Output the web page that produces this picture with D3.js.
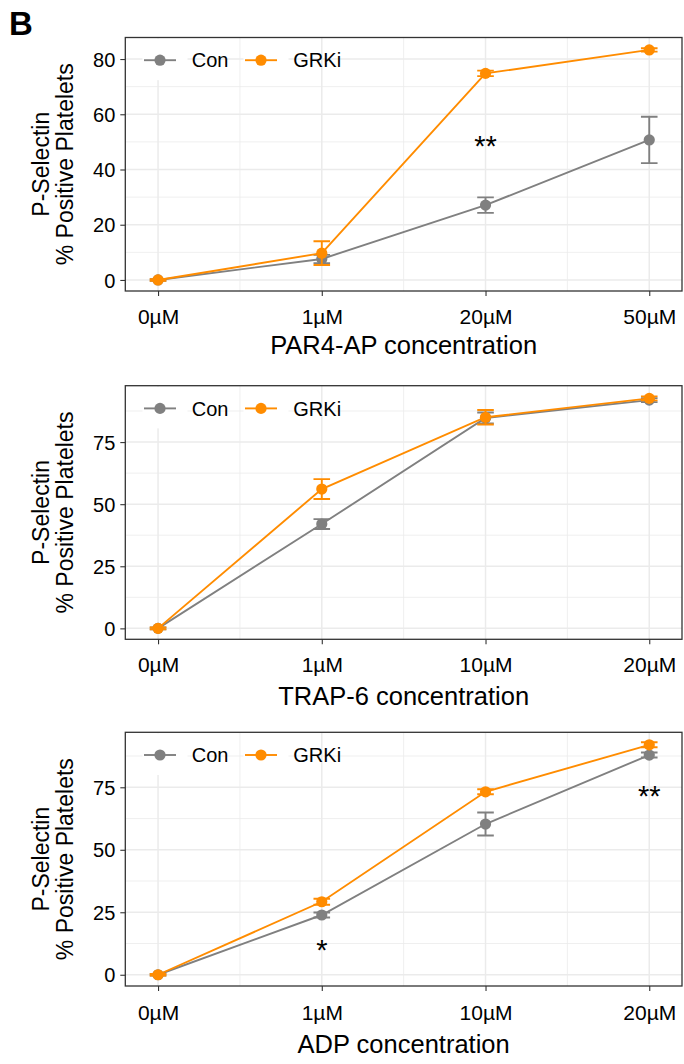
<!DOCTYPE html>
<html><head><meta charset="utf-8">
<script src="https://cdn.jsdelivr.net/npm/d3@7"></script>
<style>body{margin:0;background:#fff}svg{display:block}</style>
</head><body>
<svg id="c" width="684" height="1064"></svg>
<script>
// ---------------- data ----------------
const seriesNames = ["Con", "GRKi"];
const seriesColors = ["#808080", "#FF8C00"];

const par4Labels = ["0µM", "1µM", "20µM", "50µM"];
const par4Con = [0, 7.6, 27.1, 50.7];
const par4ConErr = [0.3, 1.5, 2.8, 8.4];
const par4GRKi = [0, 9.7, 74.8, 83.3];
const par4GRKiErr = [0.3, 4.3, 1.0, 0.6];
const par4Sig = [{ i: 2, y: 51.1, label: "**" }];

const trapLabels = ["0µM", "1µM", "10µM", "20µM"];
const trapCon = [0, 42.0, 84.7, 91.9];
const trapConErr = [0.4, 2.0, 2.2, 0.8];
const trapGRKi = [0, 56.1, 85.0, 92.6];
const trapGRKiErr = [0.4, 4.0, 2.9, 0.8];
const trapSig = [];

const adpLabels = ["0µM", "1µM", "10µM", "20µM"];
const adpCon = [0, 23.9, 60.3, 87.9];
const adpConErr = [0.3, 1.0, 4.6, 1.0];
const adpGRKi = [0, 29.2, 73.2, 92.0];
const adpGRKiErr = [0.3, 1.2, 1.0, 1.0];
const adpSig = [{ i: 1, y: 12.6, label: "*" }, { i: 3, y: 74.2, label: "**" }];

const yTicksPar4 = [0, 20, 40, 60, 80];
const yTicksOther = [0, 25, 50, 75];

const xTitles = ["PAR4-AP concentration", "TRAP-6 concentration", "ADP concentration"];
const yTitleLines = ["P-Selectin", "% Positive Platelets"];
const panelTag = "B";

// ---------------- layout ----------------
const FONT = "'Liberation Sans', Arial, Helvetica, sans-serif";
const left = 125.3, right = 682;
const panels = [
  { labels: par4Labels, con: par4Con, conErr: par4ConErr, grk: par4GRKi, grkErr: par4GRKiErr, sig: par4Sig,
    yTicks: yTicksPar4, yDom: [-4.0, 87.8], top: 37.5, bottom: 291, tickBase: 323.5, titleBase: 353.5, title: xTitles[0] },
  { labels: trapLabels, con: trapCon, conErr: trapConErr, grk: trapGRKi, grkErr: trapGRKiErr, sig: trapSig,
    yTicks: yTicksOther, yDom: [-4.4, 97.7], top: 385.7, bottom: 639.3, tickBase: 672.5, titleBase: 705, title: xTitles[1] },
  { labels: adpLabels, con: adpCon, conErr: adpConErr, grk: adpGRKi, grkErr: adpGRKiErr, sig: adpSig,
    yTicks: yTicksOther, yDom: [-4.5, 97.0], top: 732.3, bottom: 986, tickBase: 1020, titleBase: 1053, title: xTitles[2] }
];

const svg = d3.select("#c");
svg.append("rect").attr("width", 684).attr("height", 1064).attr("fill", "#fff");

svg.append("text").attr("x", 9).attr("y", 35).attr("font-family", FONT)
  .attr("font-weight", "bold").attr("font-size", 33).attr("fill", "#000").text(panelTag);

panels.forEach(p => {
  const g = svg.append("g");
  const x = d3.scalePoint().domain(p.labels).range([left, right]).padding(0.2);
  const y = d3.scaleLinear().domain(p.yDom).range([p.bottom, p.top]);
  const step = x.step();

  // gridlines
  const grid = g.append("g");
  const yMajStep = p.yTicks[1] - p.yTicks[0];
  const yMinor = [];
  for (let v = p.yTicks[0] - yMajStep / 2; v <= p.yDom[1]; v += yMajStep) if (v >= p.yDom[0]) yMinor.push(v);
  grid.selectAll(".hmin").data(yMinor).join("line")
    .attr("x1", left).attr("x2", right).attr("y1", d => y(d)).attr("y2", d => y(d))
    .attr("stroke", "#EBEBEB").attr("stroke-width", 0.8);
  const xMinor = p.labels.slice(1).map((l, i) => x(p.labels[i]) + step / 2);
  grid.selectAll(".vmin").data(xMinor).join("line")
    .attr("y1", p.top).attr("y2", p.bottom).attr("x1", d => d).attr("x2", d => d)
    .attr("stroke", "#EBEBEB").attr("stroke-width", 0.8);
  grid.selectAll(".hmaj").data(p.yTicks).join("line")
    .attr("x1", left).attr("x2", right).attr("y1", d => y(d)).attr("y2", d => y(d))
    .attr("stroke", "#EBEBEB").attr("stroke-width", 1.5);
  grid.selectAll(".vmaj").data(p.labels).join("line")
    .attr("y1", p.top).attr("y2", p.bottom).attr("x1", d => x(d)).attr("x2", d => x(d))
    .attr("stroke", "#EBEBEB").attr("stroke-width", 1.5);

  // legend
  const ly = p.top + 22.7;
  const leg = g.append("g");
  const keyOff = [18.7, 119.7];
  const textOff = [66.4, 168];
  seriesNames.forEach((name, k) => {
    const kx = left + keyOff[k];
    leg.append("rect").attr("x", kx - 1.5).attr("y", p.top + 1).attr("width", 45).attr("height", ly + 19 - p.top)
      .attr("fill", "#fff");
    leg.append("line").attr("x1", kx).attr("x2", kx + 32).attr("y1", ly).attr("y2", ly)
      .attr("stroke", seriesColors[k]).attr("stroke-width", 1.9);
    leg.append("circle").attr("cx", kx + 16).attr("cy", ly).attr("r", 5.6).attr("fill", seriesColors[k]);
    leg.append("text").attr("x", left + textOff[k]).attr("y", ly + 7.2).attr("font-family", FONT)
      .attr("font-size", 20).attr("fill", "#000").text(name);
  });

  // series
  const series = [{ v: p.con, e: p.conErr, c: seriesColors[0] }, { v: p.grk, e: p.grkErr, c: seriesColors[1] }];
  series.forEach(s => {
    const pts = p.labels.map((l, i) => ({ l, v: s.v[i], e: s.e[i] }));
    const sg = g.append("g");
    sg.selectAll(".eb").data(pts).join("path")
      .attr("d", d => {
        const cx = x(d.l), y1 = y(d.v + d.e), y2 = y(d.v - d.e), w = 8.3;
        return `M${cx - w},${y1}H${cx + w}M${cx},${y1}V${y2}M${cx - w},${y2}H${cx + w}`;
      })
      .attr("fill", "none").attr("stroke", s.c).attr("stroke-width", 1.9);
    sg.append("path").datum(pts)
      .attr("d", d3.line().x(d => x(d.l)).y(d => y(d.v)))
      .attr("fill", "none").attr("stroke", s.c).attr("stroke-width", 1.9);
    sg.selectAll("circle").data(pts).join("circle")
      .attr("cx", d => x(d.l)).attr("cy", d => y(d.v)).attr("r", 5.6).attr("fill", s.c);
  });

  // significance marks
  g.selectAll(".sig").data(p.sig).join("text")
    .attr("x", d => x(p.labels[d.i])).attr("y", d => y(d.y) + 0.575 * 29)
    .attr("text-anchor", "middle").attr("font-family", FONT).attr("font-size", 29)
    .attr("fill", "#000").text(d => d.label);

  // border
  g.append("rect").attr("x", left).attr("y", p.top).attr("width", right - left).attr("height", p.bottom - p.top)
    .attr("fill", "none").attr("stroke", "#333").attr("stroke-width", 1.3);

  // axes
  const xa = g.append("g").attr("transform", `translate(0,${p.bottom})`)
    .call(d3.axisBottom(x).tickSize(5).tickPadding(3));
  xa.select(".domain").remove();
  xa.selectAll("line").attr("stroke", "#333").attr("stroke-width", 1.1);
  xa.selectAll("text").attr("font-family", FONT).attr("font-size", 21).attr("fill", "#000")
    .attr("dy", null).attr("y", p.tickBase - p.bottom);

  const ya = g.append("g").attr("transform", `translate(${left},0)`)
    .call(d3.axisLeft(y).tickValues(p.yTicks).tickFormat(d3.format("d")).tickSize(5).tickPadding(4));
  ya.select(".domain").remove();
  ya.selectAll("line").attr("stroke", "#333").attr("stroke-width", 1.1);
  ya.selectAll("text").attr("font-family", FONT).attr("font-size", 20).attr("fill", "#000")
    .attr("dy", "0.36em").attr("x", -10);

  // titles
  g.append("text").attr("x", (left + right) / 2).attr("y", p.titleBase).attr("text-anchor", "middle")
    .attr("font-family", FONT).attr("font-size", 25.5).attr("fill", "#000").text(p.title);
  const cy = (p.top + p.bottom) / 2;
  [49.3, 73.3].forEach((bx, k) => {
    g.append("text").attr("transform", `translate(${bx},${cy}) rotate(-90)`).attr("text-anchor", "middle")
      .attr("font-family", FONT).attr("font-size", 23).attr("fill", "#000").text(yTitleLines[k]);
  });
});
</script>
</body></html>
